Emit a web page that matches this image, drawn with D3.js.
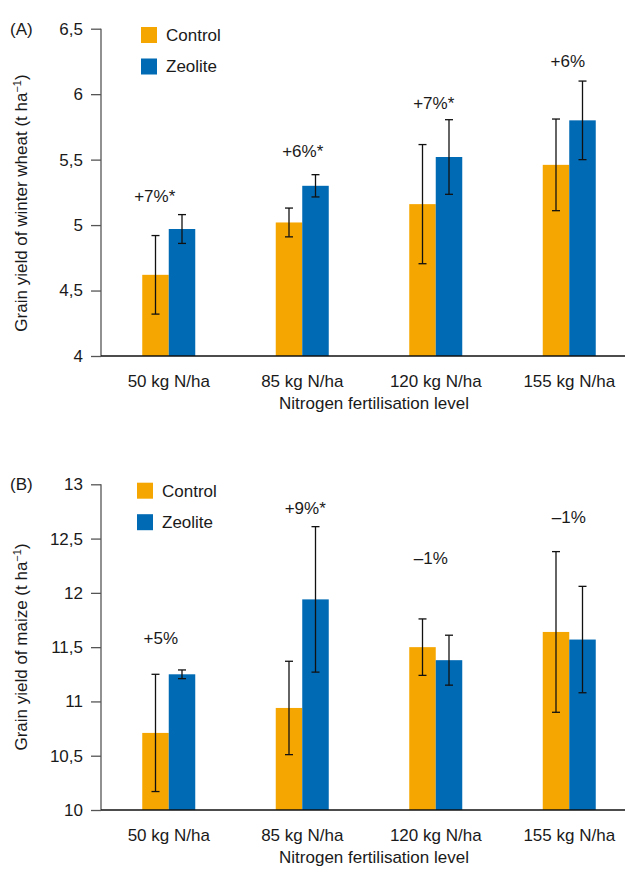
<!DOCTYPE html>
<html>
<head>
<meta charset="utf-8">
<script src="https://cdn.jsdelivr.net/npm/d3@7"></script>
<style>
  html, body { margin: 0; padding: 0; background: #fff; }
  svg { display: block; font-family: "Liberation Sans", Arial, sans-serif; }
</style>
</head>
<body>
<svg id="chart" width="625" height="876"></svg>
<script>
// ---------- DATA ----------
const categories = ["50 kg N/ha", "85 kg N/ha", "120 kg N/ha", "155 kg N/ha"];
const seriesNames = ["Control", "Zeolite"];

// Panel A: winter wheat
const wheatControl = [4.62, 5.02, 5.16, 5.46];
const wheatZeolite = [4.97, 5.30, 5.52, 5.80];
const wheatControlErr = [0.30, 0.11, 0.455, 0.35];
const wheatZeoliteErr = [0.11, 0.085, 0.285, 0.30];
const wheatLabels = ["+7%*", "+6%*", "+7%*", "+6%"];
const wheatLabelAt = [5.18, 5.52, 5.89, 6.21];
const wheatTicks = [4, 4.5, 5, 5.5, 6, 6.5];

// Panel B: maize
const maizeControl = [10.71, 10.94, 11.50, 11.64];
const maizeZeolite = [11.25, 11.94, 11.38, 11.57];
const maizeControlErr = [0.54, 0.43, 0.26, 0.74];
const maizeZeoliteErr = [0.04, 0.67, 0.23, 0.49];
const maizeLabels = ["+5%", "+9%*", "\u20131%", "\u20131%"];
const maizeLabelAt = [11.53, 12.73, 12.265, 12.645];
const maizeTicks = [10, 10.5, 11, 11.5, 12, 12.5, 13];

// ---------- LAYOUT ----------
const svg = d3.select("#chart");
const W = 625;
const colors = { Control: "#F6A600", Zeolite: "#006AB4" };
const fmt = v => String(v).replace(".", ",");
const FS = 17;

const x = d3.scaleBand().domain(categories).range([102, 636]).paddingInner(0).paddingOuter(0);
const barW = 26.5;
const xs = d3.scaleBand().domain(seriesNames).range([-barW, barW]).padding(0);

function panel(opts) {
  const g = svg.append("g");
  const y = d3.scaleLinear().domain(opts.domain).range([opts.bottom, opts.top]);
  const axisX = 101;

  // y axis line
  g.append("line")
    .attr("x1", axisX).attr("x2", axisX)
    .attr("y1", y(opts.domain[1])).attr("y2", y(opts.domain[0]))
    .attr("stroke", "#555").attr("stroke-width", 1.3);

  // y ticks
  const yAxis = d3.axisLeft(y).tickValues(opts.ticks).tickSize(10).tickPadding(8).tickFormat(fmt);
  const ya = g.append("g").attr("transform", `translate(${axisX},0)`).call(yAxis);
  ya.select(".domain").remove();
  ya.selectAll(".tick line").attr("stroke", "#555").attr("stroke-width", 1.3);
  ya.selectAll(".tick text").attr("font-size", FS).attr("fill", "#1a1a1a")
    .attr("font-family", "Liberation Sans, Arial, sans-serif");

  // bars
  const rows = [];
  categories.forEach((c, i) => {
    rows.push({ cat: c, s: "Control", v: opts.control[i], e: opts.controlErr[i] });
    rows.push({ cat: c, s: "Zeolite", v: opts.zeolite[i], e: opts.zeoliteErr[i] });
  });
  const cx = c => x(c) + x.bandwidth() / 2;

  g.selectAll("rect.bar").data(rows).join("rect")
    .attr("class", "bar")
    .attr("x", d => cx(d.cat) + xs(d.s))
    .attr("width", xs.bandwidth())
    .attr("y", d => y(d.v))
    .attr("height", d => y(opts.domain[0]) - y(d.v))
    .attr("fill", d => colors[d.s]);

  // x axis line
  g.append("line")
    .attr("x1", axisX).attr("x2", W)
    .attr("y1", y(opts.domain[0])).attr("y2", y(opts.domain[0]))
    .attr("stroke", "#111").attr("stroke-width", 1.5);

  // error bars
  const eb = g.selectAll("g.eb").data(rows).join("g").attr("class", "eb")
    .attr("transform", d => `translate(${cx(d.cat) + xs(d.s) + xs.bandwidth() / 2},0)`);
  eb.append("line").attr("x1", 0).attr("x2", 0)
    .attr("y1", d => y(d.v + d.e)).attr("y2", d => y(d.v - d.e))
    .attr("stroke", "#111").attr("stroke-width", 1.3);
  eb.append("line").attr("x1", -4).attr("x2", 4)
    .attr("y1", d => y(d.v + d.e)).attr("y2", d => y(d.v + d.e))
    .attr("stroke", "#111").attr("stroke-width", 1.3);
  eb.append("line").attr("x1", -4).attr("x2", 4)
    .attr("y1", d => y(d.v - d.e)).attr("y2", d => y(d.v - d.e))
    .attr("stroke", "#111").attr("stroke-width", 1.3);

  // annotation labels
  g.selectAll("text.ann").data(categories).join("text")
    .attr("class", "ann")
    .attr("x", (c, i) => cx(c) + opts.labelDx[i])
    .attr("y", (c, i) => y(opts.labelAt[i]))
    .attr("text-anchor", "middle")
    .attr("font-size", FS).attr("fill", "#1a1a1a")
    .text((c, i) => opts.labels[i]);

  // x tick labels
  g.selectAll("text.xt").data(categories).join("text")
    .attr("class", "xt")
    .attr("x", c => cx(c))
    .attr("y", y(opts.domain[0]) + 31)
    .attr("text-anchor", "middle")
    .attr("font-size", FS).attr("fill", "#1a1a1a")
    .text(c => c);

  // x title
  g.append("text")
    .attr("x", 374).attr("y", y(opts.domain[0]) + 52.5)
    .attr("text-anchor", "middle").attr("font-size", FS).attr("fill", "#1a1a1a")
    .text("Nitrogen fertilisation level");

  // y title
  const yt = g.append("text")
    .attr("transform", `translate(27,${opts.ytitleY}) rotate(-90)`)
    .attr("text-anchor", "middle").attr("font-size", FS).attr("fill", "#1a1a1a");
  yt.append("tspan").text(opts.ytitle + " (t ha");
  yt.append("tspan").attr("font-size", 11).attr("dy", -6).text("\u22121");
  yt.append("tspan").attr("dy", 6).text(")");

  // panel letter
  g.append("text").attr("x", 10).attr("y", y(opts.domain[1]) + 6)
    .attr("font-size", FS).attr("fill", "#1a1a1a").text(opts.letter);

  // legend
  const lg = g.selectAll("g.lg").data(seriesNames).join("g").attr("class", "lg")
    .attr("transform", (d, i) => `translate(${opts.legendX},${opts.legendY + i * 31.5})`);
  lg.append("rect").attr("x", 0).attr("y", -8).attr("width", 16).attr("height", 16)
    .attr("fill", d => colors[d]);
  lg.append("text").attr("x", 25).attr("y", 0).attr("dy", "0.35em")
    .attr("font-size", FS).attr("fill", "#1a1a1a").text(d => d);
}

panel({
  domain: [4, 6.5], top: 28.7, bottom: 356, ticks: wheatTicks,
  control: wheatControl, zeolite: wheatZeolite,
  controlErr: wheatControlErr, zeoliteErr: wheatZeoliteErr,
  labels: wheatLabels, labelAt: wheatLabelAt, labelDx: [-14, 0.5, -2, -1.5],
  ytitle: "Grain yield of winter wheat", ytitleY: 203,
  letter: "(A)", legendX: 141, legendY: 35
});

panel({
  domain: [10, 13], top: 484.3, bottom: 810, ticks: maizeTicks,
  control: maizeControl, zeolite: maizeZeolite,
  controlErr: maizeControlErr, zeoliteErr: maizeZeoliteErr,
  labels: maizeLabels, labelAt: maizeLabelAt, labelDx: [-8, 3, -5, -0.5],
  ytitle: "Grain yield of maize", ytitleY: 647,
  letter: "(B)", legendX: 137, legendY: 490.7
});
</script>
</body>
</html>
